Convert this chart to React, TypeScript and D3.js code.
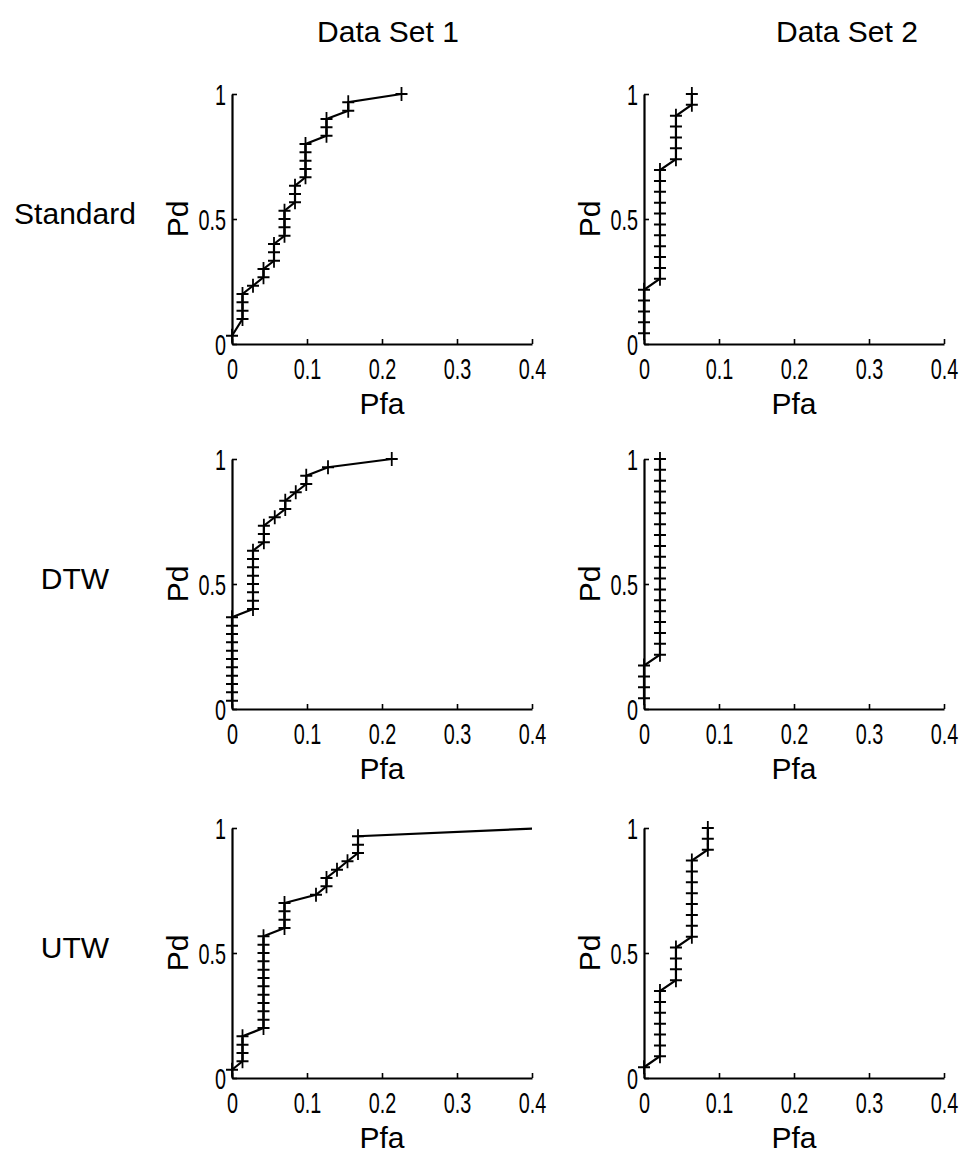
import { useEffect, useRef } from "react";
import * as d3 from "d3";

// tick labels and headings
const xTicks = [0, 0.1, 0.2, 0.3, 0.4];
const yTicks = [0, 0.5, 1];
const colLabels = ["Data Set 1", "Data Set 2"];
const rowLabels = ["Standard", "DTW", "UTW"];

// Standard, data set 1
const std1Pfa = [0, 0.014, 0.014, 0.014, 0.014, 0.028, 0.042, 0.042, 0.056, 0.056, 0.056, 0.07, 0.07, 0.07, 0.07, 0.084, 0.084, 0.084, 0.098, 0.098, 0.098, 0.098, 0.098, 0.126, 0.126, 0.126, 0.155, 0.155, 0.226];
const std1Pd = [0.033, 0.1, 0.133, 0.167, 0.2, 0.233, 0.267, 0.3, 0.333, 0.367, 0.4, 0.433, 0.467, 0.5, 0.533, 0.567, 0.6, 0.633, 0.667, 0.7, 0.733, 0.767, 0.8, 0.833, 0.867, 0.9, 0.933, 0.967, 1.0];

// Standard, data set 2
const std2Pfa = [0, 0, 0, 0, 0, 0.0213, 0.0213, 0.0213, 0.0213, 0.0213, 0.0213, 0.0213, 0.0213, 0.0213, 0.0213, 0.0213, 0.0426, 0.0426, 0.0426, 0.0426, 0.0426, 0.0638, 0.0638];
const std2Pd = [0.043, 0.087, 0.13, 0.174, 0.217, 0.261, 0.304, 0.348, 0.391, 0.435, 0.478, 0.522, 0.565, 0.609, 0.652, 0.696, 0.739, 0.783, 0.826, 0.87, 0.913, 0.957, 1.0];

// DTW, data set 1
const dtw1Pfa = [0, 0, 0, 0, 0, 0, 0, 0, 0, 0, 0, 0.028, 0.028, 0.028, 0.028, 0.028, 0.028, 0.028, 0.028, 0.0425, 0.0425, 0.0425, 0.057, 0.071, 0.071, 0.085, 0.099, 0.099, 0.128, 0.213];
const dtw1Pd = [0.033, 0.067, 0.1, 0.133, 0.167, 0.2, 0.233, 0.267, 0.3, 0.333, 0.367, 0.4, 0.433, 0.467, 0.5, 0.533, 0.567, 0.6, 0.633, 0.667, 0.7, 0.733, 0.767, 0.8, 0.833, 0.867, 0.9, 0.933, 0.967, 1.0];

// DTW, data set 2
const dtw2Pfa = [0, 0, 0, 0, 0.0213, 0.0213, 0.0213, 0.0213, 0.0213, 0.0213, 0.0213, 0.0213, 0.0213, 0.0213, 0.0213, 0.0213, 0.0213, 0.0213, 0.0213, 0.0213, 0.0213, 0.0213, 0.0213];
const dtw2Pd = [0.043, 0.087, 0.13, 0.174, 0.217, 0.261, 0.304, 0.348, 0.391, 0.435, 0.478, 0.522, 0.565, 0.609, 0.652, 0.696, 0.739, 0.783, 0.826, 0.87, 0.913, 0.957, 1.0];

// UTW, data set 1 (last point lies past the 0.4 limit)
const utw1Pfa = [0, 0.014, 0.014, 0.014, 0.014, 0.042, 0.042, 0.042, 0.042, 0.042, 0.042, 0.042, 0.042, 0.042, 0.042, 0.042, 0.042, 0.07, 0.07, 0.07, 0.07, 0.112, 0.126, 0.126, 0.14, 0.154, 0.168, 0.168, 0.168, 0.42];
const utw1Pd = [0.033, 0.067, 0.1, 0.133, 0.167, 0.2, 0.233, 0.267, 0.3, 0.333, 0.367, 0.4, 0.433, 0.467, 0.5, 0.533, 0.567, 0.6, 0.633, 0.667, 0.7, 0.733, 0.767, 0.8, 0.833, 0.867, 0.9, 0.933, 0.967, 1.0];

// UTW, data set 2
const utw2Pfa = [0, 0.0213, 0.0213, 0.0213, 0.0213, 0.0213, 0.0213, 0.0213, 0.0426, 0.0426, 0.0426, 0.0426, 0.0638, 0.0638, 0.0638, 0.0638, 0.0638, 0.0638, 0.0638, 0.0638, 0.0851, 0.0851, 0.0851];
const utw2Pd = [0.043, 0.087, 0.13, 0.174, 0.217, 0.261, 0.304, 0.348, 0.391, 0.435, 0.478, 0.522, 0.565, 0.609, 0.652, 0.696, 0.739, 0.783, 0.826, 0.87, 0.913, 0.957, 1.0];

const grid = [
  [{ pfa: std1Pfa, pd: std1Pd }, { pfa: std2Pfa, pd: std2Pd }],
  [{ pfa: dtw1Pfa, pd: dtw1Pd }, { pfa: dtw2Pfa, pd: dtw2Pd }],
  [{ pfa: utw1Pfa, pd: utw1Pd }, { pfa: utw2Pfa, pd: utw2Pd }],
];

const W = 966;
const H = 1157;
const COL_X = [232, 644];
const ROW_Y = [94, 459, 828];
const PW = 300;
const PH = 250;
const TITLE_X = [388, 847];
const FONT = "'Liberation Sans', Arial, Helvetica, sans-serif";
const SQUEEZE = 0.66; // tick digits in the scan are narrow

export default function App() {
  const svgRef = useRef<SVGSVGElement>(null);

  useEffect(() => {
    const svg = d3.select(svgRef.current);
    svg.selectAll("*").remove();
    svg.append("rect").attr("width", W).attr("height", H).attr("fill", "#fff");

    // column titles
    colLabels.forEach((t, i) => {
      svg.append("text")
        .attr("x", TITLE_X[i]).attr("y", 42)
        .attr("text-anchor", "middle")
        .attr("font-family", FONT).attr("font-size", 30)
        .text(t);
    });

    const x = d3.scaleLinear().domain([0, 0.4]).range([0, PW]);
    const y = d3.scaleLinear().domain([0, 1]).range([PH, 0]);
    const fmt = (d) => (d === 0 ? "0" : d === 1 ? "1" : String(d));

    grid.forEach((row, r) => {
      // row label
      svg.append("text")
        .attr("x", 75).attr("y", ROW_Y[r] + y(0.5) + 5)
        .attr("text-anchor", "middle")
        .attr("font-family", FONT).attr("font-size", 30)
        .text(rowLabels[r]);

      row.forEach((p, c) => {
        const g = svg.append("g").attr("transform", `translate(${COL_X[c]},${ROW_Y[r]})`);
        const clipId = `clip-${r}-${c}`;
        g.append("clipPath").attr("id", clipId)
          .append("rect").attr("x", -12).attr("y", -12)
          .attr("width", PW + 12).attr("height", PH + 24);

        // x axis, ticks pointing inward
        const xa = g.append("g")
          .attr("transform", `translate(0,${PH})`)
          .call(d3.axisBottom(x).tickValues(xTicks).tickSize(-5).tickSizeOuter(0).tickPadding(14).tickFormat(fmt));
        xa.select(".domain").attr("stroke-width", 2.2);
        xa.selectAll(".tick line").attr("stroke-width", 1.6);
        xa.selectAll(".tick text")
          .attr("font-family", FONT).attr("font-size", 30)
          .attr("transform", `scale(${SQUEEZE},1)`);

        // y axis
        const ya = g.append("g")
          .call(d3.axisLeft(y).tickValues(yTicks).tickSize(-5).tickSizeOuter(0).tickFormat(fmt));
        ya.select(".domain").attr("stroke-width", 2.2);
        ya.selectAll(".tick line").attr("stroke-width", 1.6);
        ya.selectAll(".tick text")
          .attr("x", -6 / SQUEEZE).attr("dy", "0.36em")
          .attr("font-family", FONT).attr("font-size", 30)
          .attr("transform", `scale(${SQUEEZE},1)`);

        // axis titles
        g.append("text")
          .attr("x", PW / 2).attr("y", PH + 70)
          .attr("text-anchor", "middle")
          .attr("font-family", FONT).attr("font-size", 30)
          .text("Pfa");
        g.append("text")
          .attr("transform", `translate(-55,${y(0.5)}) rotate(-90)`)
          .attr("dy", "0.35em")
          .attr("text-anchor", "middle")
          .attr("font-family", FONT).attr("font-size", 30)
          .text("Pd");

        // curve and + markers
        const idx = d3.range(p.pfa.length);
        const plot = g.append("g").attr("clip-path", `url(#${clipId})`);
        plot.append("path")
          .attr("d", d3.line<number>().x((i) => x(p.pfa[i])).y((i) => y(p.pd[i]))(idx))
          .attr("fill", "none").attr("stroke", "#000").attr("stroke-width", 2.2);
        plot.selectAll("path.mk")
          .data(idx)
          .enter()
          .append("path")
          .attr("class", "mk")
          .attr("transform", (i) => `translate(${x(p.pfa[i])},${y(p.pd[i])})`)
          .attr("d", "M-6,0H6M0,-7V7")
          .attr("stroke", "#000").attr("stroke-width", 1.8);
      });
    });
  }, []);

  return (
    <svg
      ref={svgRef}
      width={W}
      height={H}
      style={{ position: "absolute", left: 0, top: 0 }}
    />
  );
}
